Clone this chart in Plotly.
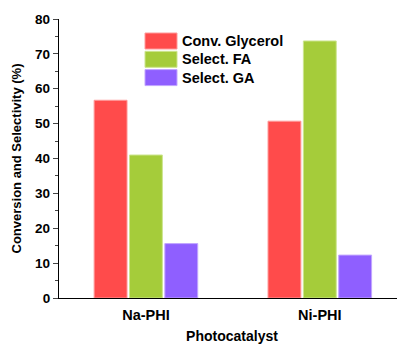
import plotly.graph_objects as go

categories = ["Na-PHI", "Ni-PHI"]
series_names = ["Conv. Glycerol", "Select. FA", "Select. GA"]
conv_glycerol = [56.7, 50.7]
select_fa = [41.0, 73.7]
select_ga = [15.6, 12.3]
colors = ["#FF4B4B", "#A5CC3A", "#8F5FFF"]
edge_colors = ["#FF9A9A", "#CDE58F", "#C2A6FF"]

values = [conv_glycerol, select_fa, select_ga]
OFF = 8  # page body margin
W, H = 405 - OFF, 344 - OFF
ml, mr, mt, mb = 59 - OFF, 0, 19 - OFF, 46

fig = go.Figure()
for name, vals, c, ec in zip(series_names, values, colors, edge_colors):
    fig.add_trace(go.Bar(x=categories, y=vals, name=name,
                         marker=dict(color=c, line=dict(color=ec, width=1)),
                         showlegend=False))

FF = "Arial, Liberation Sans"
pw, ph = W - ml - mr, H - mt - mb
def px(x): return (x - OFF - ml) / pw
def py(y): return 1 - (y - OFF - mt) / ph
for i, (name, c) in enumerate(zip(series_names, colors)):
    y0 = 33 + i * 18.3
    fig.add_shape(type="rect", xref="paper", yref="paper",
                  x0=px(145), x1=px(177), y0=py(y0 + 16), y1=py(y0),
                  fillcolor=c, line=dict(color=edge_colors[i], width=1))
    fig.add_annotation(xref="paper", yref="paper", x=px(180), y=py(y0 + 8),
                       text=f"<b>{name}</b>", showarrow=False, xanchor="left",
                       yanchor="middle", font=dict(family=FF, size=14.5, color="black"))

fig.update_layout(
    width=W, height=H, margin=dict(l=ml, r=mr, t=mt, b=mb),
    plot_bgcolor="white", paper_bgcolor="white",
    barmode="group", bargap=0.39, bargroupgap=0.07,
    font=dict(family=FF, size=12, color="black"),
)
fig.update_xaxes(range=[-0.5, 1.49], showline=True, linecolor="black", linewidth=1.3,
                 ticks="", automargin=False, ticklabelstandoff=3,
                 tickfont=dict(size=14.5, family=FF, color="black"),
                 tickprefix="<b>", ticksuffix="</b>",
                 title=dict(text="<b>Photocatalyst</b>", font=dict(size=14, family=FF), standoff=14))
fig.update_yaxes(range=[0, 80], dtick=10, showline=True, linecolor="black", linewidth=1.3,
                 ticks="outside", ticklen=5, tickwidth=1.3, showgrid=False, zeroline=False,
                 automargin=False,
                 tickfont=dict(size=13.5, family=FF, color="black"),
                 tickprefix="<b>", ticksuffix="</b>",
                 minor=dict(ticks="outside", ticklen=3, dtick=5, tickwidth=1.2, showgrid=False),
                 title=dict(text="<b>Conversion and Selectivity (%)</b>", font=dict(size=13, family=FF), standoff=10))

fig.write_html("out.html")
